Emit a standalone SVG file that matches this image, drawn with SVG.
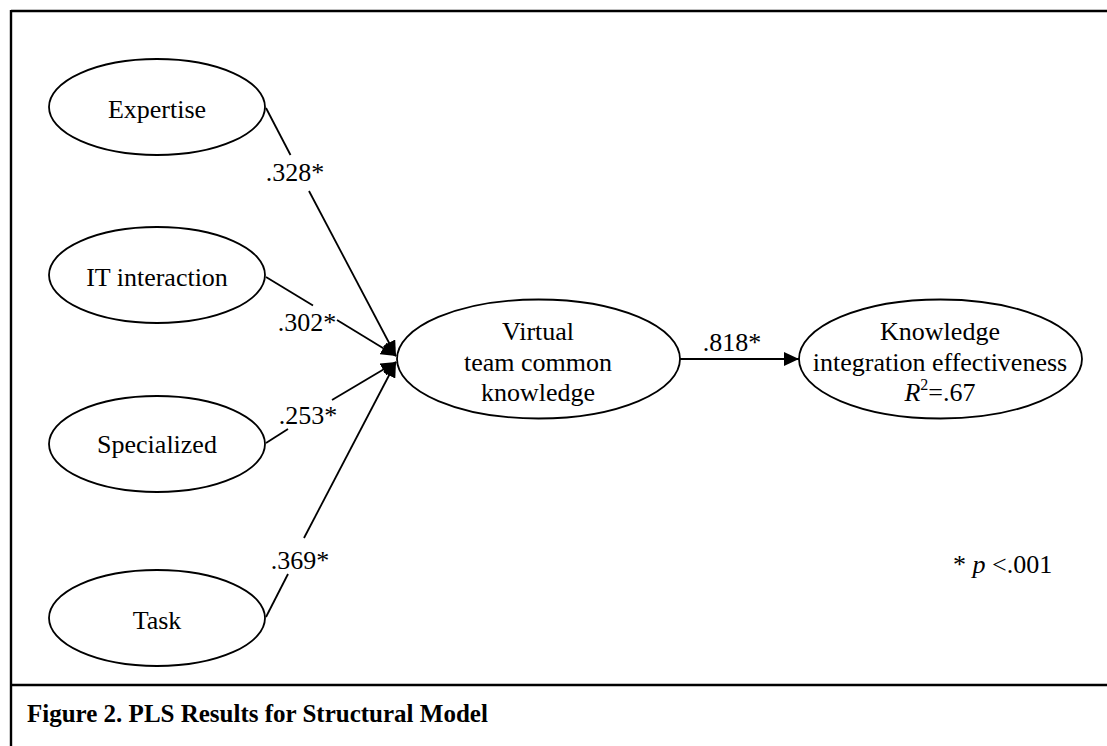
<svg xmlns="http://www.w3.org/2000/svg" width="1107" height="746" viewBox="0 0 1107 746">
<style>
text{font-family:"Liberation Serif","Times New Roman",serif;font-size:26px;fill:#000}
.node{fill:#fff;stroke:#000;stroke-width:1.8}
.conn line{stroke:#000;stroke-width:1.8}
.frame{stroke:#000;stroke-width:2.4;fill:none}
.cap{font-weight:bold;font-size:25px}
</style>
<defs>
<marker id="ah" markerUnits="userSpaceOnUse" markerWidth="16" markerHeight="14" refX="15" refY="7" orient="auto">
<path d="M0,0 L15,7 L0,14 z" fill="#000"/>
</marker>
</defs>
<rect width="1107" height="746" fill="#fff"/>
<g id="frame">
<line class="frame" x1="11" y1="11" x2="1107" y2="11"/>
<line class="frame" x1="11" y1="10" x2="11" y2="746"/>
<line class="frame" x1="10" y1="685" x2="1107" y2="685"/>
</g>
<g class="conn" id="connectors">
<line x1="266" y1="108" x2="290.5" y2="155"/>
<line x1="309" y1="191" x2="396" y2="356" marker-end="url(#ah)"/>
<line x1="266" y1="277" x2="313" y2="305.5"/>
<line x1="337" y1="320" x2="396" y2="356" marker-end="url(#ah)"/>
<line x1="266" y1="443" x2="288" y2="429"/>
<line x1="332" y1="400" x2="396" y2="362" marker-end="url(#ah)"/>
<line x1="266" y1="617" x2="288" y2="574"/>
<line x1="304" y1="538" x2="396" y2="362" marker-end="url(#ah)"/>
<line x1="680" y1="359" x2="799" y2="359" marker-end="url(#ah)"/>
<text x="295" y="181" text-anchor="middle">.328*</text>
<text x="307" y="331" text-anchor="middle">.302*</text>
<text x="308" y="424" text-anchor="middle">.253*</text>
<text x="300" y="569" text-anchor="middle">.369*</text>
<text x="732" y="351" text-anchor="middle">.818*</text>
</g>
<g id="expertise">
<ellipse class="node" cx="157" cy="107" rx="108" ry="48"/>
<text x="157" y="118" text-anchor="middle">Expertise</text>
</g>
<g id="it-interaction">
<ellipse class="node" cx="157" cy="275" rx="108" ry="48"/>
<text x="157" y="286" text-anchor="middle">IT interaction</text>
</g>
<g id="specialized">
<ellipse class="node" cx="157" cy="444" rx="108" ry="48"/>
<text x="157" y="453" text-anchor="middle">Specialized</text>
</g>
<g id="task">
<ellipse class="node" cx="157" cy="618" rx="108" ry="48"/>
<text x="157" y="629" text-anchor="middle">Task</text>
</g>
<g id="virtual-team">
<ellipse class="node" cx="538.5" cy="359" rx="141.5" ry="59.5"/>
<text x="538" y="340" text-anchor="middle">Virtual</text>
<text x="538" y="370.5" text-anchor="middle">team common</text>
<text x="538" y="401" text-anchor="middle">knowledge</text>
</g>
<g id="knowledge-integration">
<ellipse class="node" cx="940.5" cy="359" rx="141.5" ry="59.5"/>
<text x="940" y="340" text-anchor="middle">Knowledge</text>
<text x="940" y="370.5" text-anchor="middle">integration effectiveness</text>
<text x="940" y="401" text-anchor="middle"><tspan font-style="italic">R</tspan><tspan font-size="16" dy="-11">2</tspan><tspan dy="11">=.67</tspan></text>
</g>
<g id="note">
<text x="953" y="573">* <tspan font-style="italic">p</tspan> &lt;.001</text>
</g>
<g id="caption">
<text class="cap" x="27" y="722">Figure 2. PLS Results for Structural Model</text>
</g>
</svg>
